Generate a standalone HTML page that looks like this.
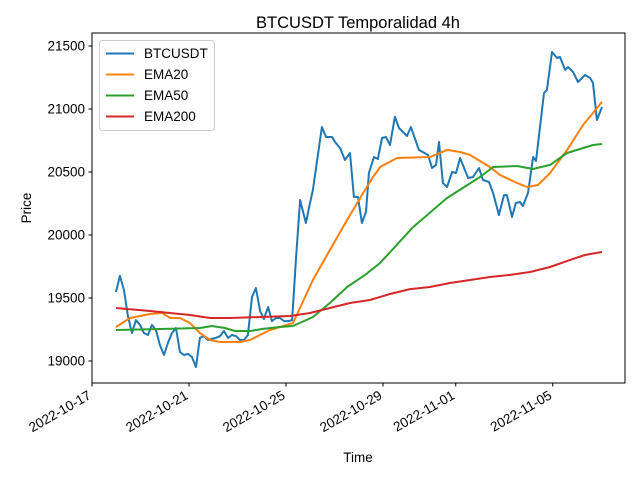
<!DOCTYPE html>
<html><head><meta charset="utf-8"><style>
body{margin:0;background:#fff;}
svg{font-family:"Liberation Sans","DejaVu Sans",sans-serif;}
</style></head><body>
<svg id="chart" width="640" height="480" viewBox="0 0 640 480">
<rect width="640" height="480" fill="#fff"/>
<text x="358" y="28" font-size="16.5" text-anchor="middle">BTCUSDT Temporalidad 4h</text>
<text x="358" y="462" font-size="13.5" text-anchor="middle">Time</text>
<text x="31" y="208" font-size="13.5" text-anchor="middle" transform="rotate(-90 31 208)">Price</text>
<g id="plot"></g>
<rect x="92" y="33" width="533" height="350" fill="none" stroke="#000" stroke-width="1"/>
<g id="legend">
<rect x="99.5" y="40.5" width="115" height="90" rx="3" fill="#fff" fill-opacity="0.8" stroke="#ccc"/>
</g>
</svg>
<script>
// day offsets from 2022-10-17 00:00
const priceDays=[0.99,1.15,1.32,1.48,1.65,1.81,1.98,2.14,2.31,2.47,2.64,2.80,2.97,3.13,3.30,3.46,3.63,3.79,3.96,4.12,4.29,4.45,4.62,4.78,4.95,5.11,5.28,5.44,5.61,5.77,5.94,6.10,6.27,6.43,6.60,6.76,6.93,7.09,7.26,7.42,7.59,7.75,7.92,8.08,8.25,8.41,8.58,8.82,8.99,9.11,9.48,9.65,9.90,10.02,10.23,10.43,10.64,10.80,10.97,11.13,11.30,11.42,11.63,11.79,11.96,12.12,12.29,12.49,12.66,12.99,13.15,13.48,13.86,14.02,14.19,14.31,14.47,14.64,14.85,15.01,15.18,15.51,15.71,15.96,16.12,16.37,16.54,16.78,16.99,17.11,17.32,17.48,17.65,17.77,17.98,18.19,18.31,18.64,18.76,18.97,19.18,19.30,19.51,19.63,19.84,20.04,20.33,20.54,20.66,20.82,21.03];
const priceValues=[19548,19675,19563,19357,19222,19325,19286,19222,19206,19286,19246,19127,19048,19143,19222,19262,19071,19048,19056,19032,18952,19183,19198,19167,19175,19183,19198,19238,19183,19206,19198,19167,19167,19206,19508,19579,19397,19333,19429,19317,19341,19341,19317,19317,19325,19801,20278,20095,20254,20357,20857,20778,20778,20738,20690,20595,20651,20302,20302,20095,20183,20492,20619,20603,20770,20778,20714,20937,20849,20786,20857,20675,20635,20532,20556,20738,20413,20381,20500,20492,20611,20452,20460,20532,20437,20421,20333,20159,20317,20317,20143,20254,20262,20230,20333,20619,20587,21127,21151,21452,21405,21413,21310,21333,21294,21214,21270,21246,21206,20913,21016];
const ema20Days=[0.99,1.57,2.39,2.89,3.22,3.63,4.04,4.45,4.87,5.28,6.10,6.52,7.34,8.29,9.11,9.81,10.52,11.18,11.59,11.88,12.58,13.94,14.64,15.18,15.59,16.41,16.82,17.53,17.94,18.39,18.89,19.59,20.25,21.03];
const ema20Values=[19270,19341,19373,19381,19341,19341,19301,19222,19167,19151,19151,19167,19246,19301,19643,19881,20119,20333,20460,20540,20611,20619,20675,20659,20635,20540,20476,20413,20381,20397,20492,20675,20873,21056];
const ema50Days=[0.99,2.80,4.45,4.95,5.48,5.90,6.52,7.01,7.75,8.29,9.11,9.81,10.52,11.26,11.88,13.24,14.64,16.00,16.54,17.53,18.19,18.89,19.59,20.66,21.03];
const ema50Values=[19246,19254,19262,19278,19262,19238,19238,19254,19270,19278,19349,19460,19587,19683,19778,20063,20294,20460,20540,20548,20524,20556,20651,20714,20722];
const ema200Days=[0.99,2.39,4.04,4.87,5.69,6.93,8.16,8.99,9.81,10.64,11.46,12.29,13.11,13.94,14.76,15.59,16.41,17.24,18.06,18.89,19.71,20.33,21.03];
const ema200Values=[19421,19397,19365,19341,19341,19349,19357,19381,19421,19460,19484,19532,19571,19587,19619,19643,19667,19683,19706,19746,19802,19841,19865];
const yTicks=[19000,19500,20000,20500,21000,21500];
const xTickDays=[0,4,8,12,15,19];
const xTickLabels=["2022-10-17","2022-10-21","2022-10-25","2022-10-29","2022-11-01","2022-11-05"];
const seriesNames=["BTCUSDT","EMA20","EMA50","EMA200"];
const seriesColors=["#1f77b4","#ff7f0e","#2ca02c","#d62728"];

const NS="http://www.w3.org/2000/svg";
const xS=d=>92+d*24.25;
const yS=v=>46+(21500-v)*0.126;
const plot=document.getElementById('plot');
function mk(t,a,p){const e=document.createElementNS(NS,t);for(const k in a)e.setAttribute(k,a[k]);(p||plot).appendChild(e);return e;}

yTicks.forEach(v=>{
  const y=yS(v);
  const tk=mk('line',{x1:88.5,x2:92,y1:y,y2:y,stroke:'#000'});
  
  
  const t=mk('text',{x:85,y:y+4.5,'font-size':13.5,'text-anchor':'end'});
  t.textContent=v;
  
  
});
xTickDays.forEach((d,i)=>{
  const x=xS(d);
  const tk=mk('line',{x1:x,x2:x,y1:383,y2:386.5,stroke:'#000'});
  
  
  const t=mk('text',{x:x,y:398,'font-size':13.5,'text-anchor':'end',transform:`rotate(-30 ${x} 398)`});
  t.textContent=xTickLabels[i];
  
  
});
const all=[[priceDays,priceValues],[ema20Days,ema20Values],[ema50Days,ema50Values],[ema200Days,ema200Values]];
const lineNames=['btcusdt-line','ema20-line','ema50-line','ema200-line'];
all.forEach((s,i)=>{
  const pts=s[0].map((d,j)=>xS(d).toFixed(1)+','+yS(s[1][j]).toFixed(1)).join(' ');
  const pl=mk('polyline',{points:pts,fill:'none',stroke:seriesColors[i],'stroke-width':2,'stroke-linejoin':'round'});
  
  
});
const lg=document.getElementById('legend');
seriesNames.forEach((n,i)=>{
  const y=53.5+i*21;
  const l=mk('line',{x1:106,x2:134,y1:y,y2:y,stroke:seriesColors[i],'stroke-width':2},lg);
  
  
  const t=mk('text',{x:144,y:y+4.5,'font-size':13.5},lg);
  t.textContent=n;
  
  
});
</script>
</body></html>
